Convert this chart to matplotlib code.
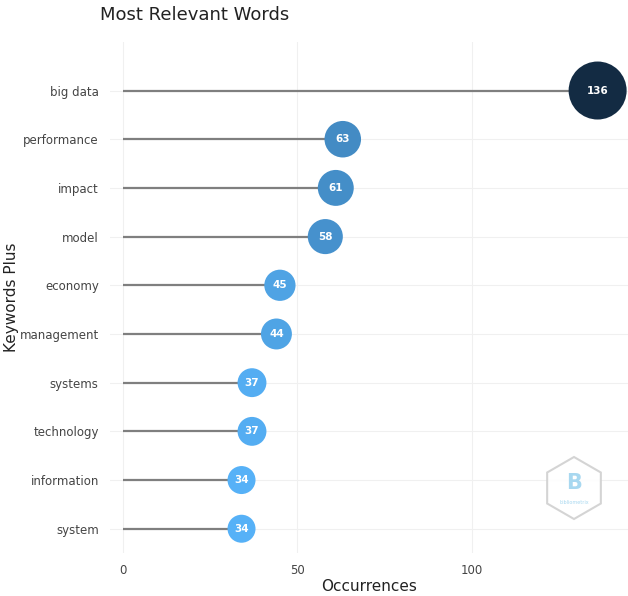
import matplotlib
matplotlib.use("Agg")
import matplotlib.pyplot as plt
from matplotlib.colors import LinearSegmentedColormap, Normalize
from matplotlib.patches import RegularPolygon
from matplotlib.transforms import IdentityTransform

# data (bottom -> top)
words = ["system", "information", "technology", "systems", "management",
         "economy", "model", "impact", "performance", "big data"]
counts = [34, 34, 37, 37, 44, 45, 58, 61, 63, 136]

cmap = LinearSegmentedColormap.from_list("blues", ["#56B1F7", "#132B43"])
norm = Normalize(vmin=min(counts), vmax=max(counts))

fig = plt.figure(figsize=(6.28, 5.96), dpi=100)
ax = fig.add_axes([0.175, 0.072, 0.825, 0.857])

ypos = list(range(len(words)))
ax.hlines(ypos, 0, counts, color="#7f7f7f", linewidth=1.6, zorder=2)

# bubble diameter in px grows with count
diam = [28 + (c - 34) * (58 - 28) / (136 - 34) for c in counts]
sizes = [(d * 0.72) ** 2 for d in diam]
ax.scatter(counts, ypos, s=sizes, c=[cmap(norm(c)) for c in counts],
           zorder=3, linewidths=0)
for c, y in zip(counts, ypos):
    ax.text(c, y, str(c), ha="center", va="center", color="white",
            fontsize=7.5, fontweight="bold", zorder=4)

ax.set_xlim(-3.7, 144.7)
ax.set_ylim(-0.5, 9.99)
ax.set_xticks([0, 50, 100])
ax.set_yticks(ypos)
ax.set_yticklabels(words)
ax.tick_params(length=0, labelsize=8.5, labelcolor="#444444", pad=8)
ax.tick_params(axis="x", pad=8)
ax.grid(True, color="#f0f0f0", linewidth=0.8, zorder=0)
ax.set_axisbelow(True)
for s in ax.spines.values():
    s.set_visible(False)

ax.set_xlabel("Occurrences", fontsize=11, color="#222222", labelpad=1)
ax.set_ylabel("Keywords Plus", fontsize=11, color="#222222")
ax.yaxis.set_label_coords(-0.175, 0.5)
fig.text(100 / 628, 1 - 15 / 596, "Most Relevant Words", fontsize=13,
         color="#222222", ha="left", va="center")

# faint watermark logo
hexagon = RegularPolygon((574, 596 - 488), numVertices=6, radius=31,
                         orientation=0, transform=IdentityTransform(),
                         facecolor="white", edgecolor="#d0d0d0",
                         linewidth=1.5, alpha=0.9, zorder=5)
fig.add_artist(hexagon)
fig.text(574 / 628, 1 - 483 / 596, "B", fontsize=15, color="#a8d8f0",
         ha="center", va="center", fontweight="bold", zorder=6)
fig.text(574 / 628, 1 - 502 / 596, "bibliometrix", fontsize=3.5,
         color="#a8d8f0", ha="center", va="center", zorder=6)

fig.savefig("out.png", dpi=100)
